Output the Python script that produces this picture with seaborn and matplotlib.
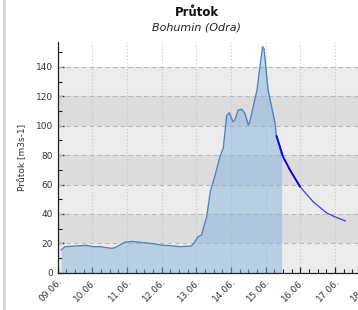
import pandas as pd
import matplotlib
matplotlib.use("Agg")
import matplotlib.pyplot as plt
import matplotlib.dates as mdates
from matplotlib.lines import Line2D
import seaborn as sns

# observed discharge (Bohumin, Odra)
obs_time = [
    "2024-06-09 02:20", "2024-06-09 05:00", "2024-06-09 13:10", "2024-06-09 20:10",
    "2024-06-10 00:40", "2024-06-10 05:15", "2024-06-10 13:25", "2024-06-10 15:35",
    "2024-06-10 22:35", "2024-06-11 03:20", "2024-06-11 08:50", "2024-06-11 15:50",
    "2024-06-12 00:00", "2024-06-12 08:00", "2024-06-12 12:45", "2024-06-12 20:40",
    "2024-06-12 23:00", "2024-06-13 01:10", "2024-06-13 03:35", "2024-06-13 07:10",
    "2024-06-13 09:50", "2024-06-13 11:45", "2024-06-13 14:00", "2024-06-13 16:20",
    "2024-06-13 18:40", "2024-06-13 21:00", "2024-06-13 22:50", "2024-06-14 01:25",
    "2024-06-14 02:40", "2024-06-14 05:00", "2024-06-14 07:25", "2024-06-14 09:35",
    "2024-06-14 12:00", "2024-06-14 13:00", "2024-06-14 15:20", "2024-06-14 18:00",
    "2024-06-14 20:00", "2024-06-14 21:50", "2024-06-14 22:50", "2024-06-15 00:45",
    "2024-06-15 01:40", "2024-06-15 04:05", "2024-06-15 06:30", "2024-06-15 07:25",
    "2024-06-15 09:50", "2024-06-15 11:00",
]
obs_flow = [
    15.4, 17.7, 18.2, 18.6,
    17.7, 17.7, 16.6, 17.0,
    20.7, 21.3, 20.7, 20.0,
    18.8, 18.2, 17.7, 18.2,
    21.1, 24.5, 25.6, 38.0,
    56.0, 62.0, 70.0, 79.0,
    85.0, 107.0, 108.8, 102.7,
    103.9, 110.7, 111.2, 108.4,
    100.5, 102.7, 112.9, 124.3,
    140.1, 153.7, 152.6, 133.3,
    124.3, 112.9, 101.6, 92.5,
    86.0, 80.0,
]

# forecast
fc_time = [
    "2024-06-15 07:30", "2024-06-15 09:50", "2024-06-15 12:00", "2024-06-15 16:50",
    "2024-06-15 23:45", "2024-06-16 08:50", "2024-06-16 18:00", "2024-06-16 23:45",
    "2024-06-17 07:10",
]
fc_flow = [93.0, 85.7, 78.9, 69.9, 58.5, 48.3, 40.8, 38.1, 35.2]

y_ticks = [0, 20, 40, 60, 80, 100, 120, 140]

obs = pd.DataFrame({"time": pd.to_datetime(obs_time), "flow": obs_flow})
fc = pd.DataFrame({"time": pd.to_datetime(fc_time), "flow": fc_flow})

sns.set_style("white")
plt.rcParams["font.family"] = ["DejaVu Sans"]

fig = plt.figure(figsize=(3.58, 3.10), dpi=100)
ax = fig.add_axes([57.6 / 358, 0.1203, 0.901, 0.7442])

# alternating background bands
for i, lo in enumerate(y_ticks[:-1]):
    ax.axhspan(lo, lo + 20, color="#ececec" if i % 2 == 0 else "#dcdcdc", lw=0, zorder=0)

ax.fill_between(obs["time"], 0, obs["flow"], color="#86b2dc", alpha=0.5, lw=0, zorder=2)
sns.lineplot(data=obs, x="time", y="flow", ax=ax, color="#4f86c0", lw=1.0, zorder=3)
sns.lineplot(data=fc, x="time", y="flow", ax=ax, color="#3a3aff", lw=0.9, zorder=4)
sns.lineplot(data=fc.iloc[:5], x="time", y="flow", ax=ax, color="#0a0ae8", lw=1.4, zorder=4)

ax.set_xlim(pd.Timestamp("2024-06-09"), pd.Timestamp("2024-06-18 07:12"))
ax.set_ylim(0, 157)

ax.yaxis.set_major_locator(plt.FixedLocator(y_ticks))
ax.yaxis.set_minor_locator(plt.MultipleLocator(10))
ax.xaxis.set_major_locator(mdates.DayLocator())
ax.xaxis.set_minor_locator(mdates.HourLocator(byhour=[6, 12, 18]))
ax.xaxis.set_major_formatter(mdates.DateFormatter("%d.%m."))

for y in y_ticks[1:]:
    ax.axhline(y, color="#b8b8b8", lw=0.8, ls=(0, (4, 3)), zorder=1)
ax.grid(axis="x", which="major", color="#c4c4c4", lw=0.8, ls=(0, (1, 2)), zorder=1)
ax.set_axisbelow(True)

ax.tick_params(axis="both", which="both", bottom=True, left=True)
ax.tick_params(axis="both", which="major", direction="in", length=4, width=0.9,
               labelsize=6.5, labelcolor="#333333", color="#222222")
ax.tick_params(axis="both", which="minor", direction="in", length=3, width=0.8,
               color="#222222")
ax.tick_params(axis="x", pad=3)
plt.setp(ax.get_xticklabels(), rotation=45, ha="right", rotation_mode="anchor")

for side in ["top", "right"]:
    ax.spines[side].set_visible(False)
for side in ["left", "bottom"]:
    ax.spines[side].set_color("#222222")
    ax.spines[side].set_linewidth(0.9)

ax.set_xlabel("")
ax.set_ylabel("Průtok [m3s-1]", fontsize=6.5, color="#333333", labelpad=6)

fig.text(197 / 358, 1 - 12 / 310, "Průtok", ha="center", va="center",
         fontsize=8.5, fontweight="bold", color="#111111")
fig.text(197 / 358, 1 - 27 / 310, "Bohumin (Odra)", ha="center", va="center",
         fontsize=8, style="italic", color="#222222")

fig.add_artist(Line2D([4 / 358, 4 / 358], [0, 1], color="#d4d4d4", lw=2))

fig.savefig("out.png", dpi=100)
